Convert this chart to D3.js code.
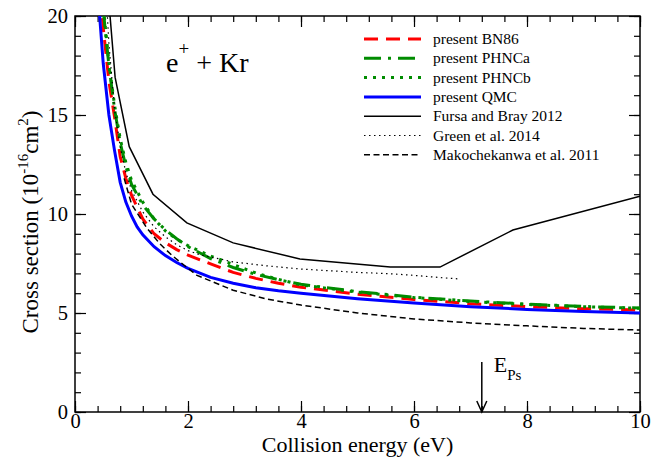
<!DOCTYPE html>
<html>
<head>
<meta charset="utf-8">
<script src="https://cdn.jsdelivr.net/npm/d3@7"></script>
<style>
  body { margin: 0; background: #fff; }
  svg text { font-family: "Liberation Serif", "Tinos", "DejaVu Serif", serif !important; }
</style>
</head>
<body>
<div id="chart"></div>
<script>
// theory curves share one energy grid (QMC has its own)
const qmcEnergy = [0.42, 0.5, 0.6, 0.7, 0.8, 0.9, 1.0, 1.1, 1.2, 1.4, 1.6, 1.8, 2.0, 2.4, 2.8, 3.2, 3.6, 4, 5, 6, 7, 8, 9, 10];
const qmc = [20.6, 17.6, 15.0, 13.2, 11.6, 10.6, 9.9, 9.35, 8.95, 8.35, 7.9, 7.55, 7.25, 6.8, 6.5, 6.28, 6.12, 6.0, 5.72, 5.5, 5.32, 5.18, 5.08, 5.0];

const thEnergy = [0.45, 0.5, 0.6, 0.7, 0.8, 0.9, 1.0, 1.2, 1.4, 1.6, 1.8, 2.0, 2.4, 2.8, 3.2, 3.6, 4, 5, 6, 7, 8, 9, 10];
const bn86 = [21.0, 19.4, 16.7, 14.9, 12.9, 11.8, 10.95, 9.75, 9.0, 8.55, 8.2, 7.92, 7.48, 7.05, 6.75, 6.5, 6.3, 5.95, 5.68, 5.47, 5.32, 5.22, 5.15];
const phnca = [22.0, 20.3, 17.5, 15.3, 13.6, 12.4, 11.5, 10.45, 9.75, 9.2, 8.75, 8.35, 7.75, 7.3, 6.95, 6.68, 6.45, 6.08, 5.8, 5.6, 5.45, 5.33, 5.25];
const phncb = [22.2, 20.5, 17.6, 15.5, 13.8, 12.6, 11.7, 10.6, 9.75, 9.15, 8.72, 8.4, 7.88, 7.45, 7.02, 6.7, 6.42, 6.05, 5.78, 5.58, 5.43, 5.32, 5.24];

const fursaEnergy = [0.6, 0.71, 0.96, 1.38, 1.98, 2.8, 3.98, 5.58, 6.46, 7.75, 10];
const fursa = [20.7, 16.9, 13.4, 11.0, 9.55, 8.54, 7.73, 7.32, 7.32, 9.19, 10.9];

const greenEnergy = [0.55, 0.6, 0.7, 0.8, 0.9, 1.0, 1.2, 1.4, 1.6, 1.8, 2.0, 2.2, 2.8, 3.4, 4.0, 5.0, 5.6, 6.0, 6.5, 6.8];
const green = [21.2, 18.6, 15.3, 13.4, 12.1, 11.2, 10.1, 9.35, 8.85, 8.45, 8.15, 7.95, 7.58, 7.38, 7.22, 7.05, 6.98, 6.9, 6.78, 6.72];

const makoEnergy = [0.87, 1.0, 1.27, 1.5, 1.72, 1.98, 2.16, 2.8, 3.4, 4.0, 5.0, 6.0, 7.0, 8.0, 9.0, 10];
const mako = [11.8, 10.5, 9.3, 8.5, 7.9, 7.3, 6.9, 6.15, 5.7, 5.4, 5.0, 4.7, 4.5, 4.35, 4.22, 4.14];

const legendLabels = ["present BN86", "present PHNCa", "present PHNCb", "present QMC",
  "Fursa and Bray 2012", "Green et al. 2014", "Makochekanwa et al. 2011"];

const xTicks = [0, 2, 4, 6, 8, 10];
const yTicks = [0, 5, 10, 15, 20];
const ePs = 7.2;

var margin = { top: 16, right: 22, bottom: 47, left: 75 },
    width = 662 - margin.left - margin.right,
    height = 459 - margin.top - margin.bottom;

var svg = d3.select("#chart")
    .append("svg")
    .attr("width", 662)
    .attr("height", 459)
    .append("g")
    .attr("transform", "translate(" + margin.left + "," + margin.top + ")");

var x = d3.scaleLinear().domain([0, 10]).range([0, width]);
var y = d3.scaleLinear().domain([0, 20]).range([height, 0]);

svg.append("clipPath").attr("id", "clip")
    .append("rect").attr("width", width).attr("height", height);

// minor ticks
var xMinor = d3.range(0, 10.01, 0.4);
var yMinor = d3.range(0, 20.01, 1);
function ticks(axis, vals, size) {
    return axis.tickValues(vals).tickSize(-size).tickFormat("");
}
svg.append("g").attr("transform", "translate(0," + height + ")").call(ticks(d3.axisBottom(x), xMinor, 6));
svg.append("g").call(ticks(d3.axisTop(x), xMinor, 6));
svg.append("g").call(ticks(d3.axisLeft(y), yMinor, 6));
svg.append("g").attr("transform", "translate(" + width + ",0)").call(ticks(d3.axisRight(y), yMinor, 6));

// major ticks with labels
svg.append("g").attr("class", "lab").attr("transform", "translate(0," + height + ")")
    .call(d3.axisBottom(x).tickValues(xTicks).tickSize(-11).tickPadding(1).tickFormat(d3.format("d")));
svg.append("g").attr("class", "lab")
    .call(d3.axisLeft(y).tickValues(yTicks).tickSize(-11).tickPadding(7).tickFormat(d3.format("d")));
svg.append("g").call(ticks(d3.axisTop(x), xTicks, 11));
svg.append("g").attr("transform", "translate(" + width + ",0)").call(ticks(d3.axisRight(y), yTicks, 11));

svg.selectAll(".domain").remove();
svg.selectAll(".tick line").attr("stroke", "#000").attr("stroke-width", 1.2);
svg.selectAll(".lab text").style("font-size", "20.5px").attr("fill", "#000");

svg.append("rect").attr("width", width).attr("height", height)
    .attr("fill", "none").attr("stroke", "#000").attr("stroke-width", 1.5);

// curves
var styles = [
    { e: thEnergy, v: bn86, color: "#ff0000", w: 3, dash: "14,8" },
    { e: thEnergy, v: phnca, color: "#008c00", w: 3, dash: "17,7,3,7" },
    { e: thEnergy, v: phncb, color: "#008c00", w: 3, dash: "3,6" },
    { e: qmcEnergy, v: qmc, color: "#0000ff", w: 3, dash: null },
    { e: fursaEnergy, v: fursa, color: "#000", w: 1.5, dash: null },
    { e: greenEnergy, v: green, color: "#000", w: 1.2, dash: "1.5,3.5" },
    { e: makoEnergy, v: mako, color: "#000", w: 1.5, dash: "6,3.5" }
];

var line = d3.line().x(function (d) { return x(d[0]); }).y(function (d) { return y(d[1]); });

var plot = svg.append("g").attr("clip-path", "url(#clip)");
styles.forEach(function (s) {
    var pts = s.e.map(function (e, i) { return [e, s.v[i]]; });
    plot.append("path")
        .attr("d", line(pts))
        .attr("fill", "none")
        .attr("stroke", s.color)
        .attr("stroke-width", s.w)
        .attr("stroke-dasharray", s.dash);
});

// legend
var lg = svg.append("g").attr("transform", "translate(289,23)");
legendLabels.forEach(function (name, i) {
    var s = styles[i];
    var row = lg.append("g").attr("transform", "translate(0," + (i * 19.3) + ")");
    row.append("line").attr("x1", 0).attr("x2", 57).attr("y1", 0).attr("y2", 0)
        .attr("stroke", s.color).attr("stroke-width", s.w).attr("stroke-dasharray", s.dash);
    row.append("text").attr("x", 69).attr("y", 5).text(name).style("font-size", "15.5px");
});

// e+ + Kr
var title = svg.append("text").attr("x", 91).attr("y", 56).style("font-size", "28px");
title.append("tspan").text("e");
title.append("tspan").attr("dy", -17).style("font-size", "19px").text("+");
title.append("tspan").attr("dy", 17).text(" + Kr");

// positronium threshold arrow
svg.append("line").attr("x1", x(ePs)).attr("x2", x(ePs)).attr("y1", y(2.53)).attr("y2", y(0))
    .attr("stroke", "#000").attr("stroke-width", 1.5);
svg.append("path")
    .attr("d", "M" + (x(ePs) - 5) + "," + (y(0) - 11) + "L" + x(ePs) + "," + y(0) + "L" + (x(ePs) + 5) + "," + (y(0) - 11))
    .attr("fill", "none").attr("stroke", "#000").attr("stroke-width", 1.5);
var ep = svg.append("text").attr("x", x(ePs) + 12).attr("y", y(2.0)).style("font-size", "22px");
ep.append("tspan").text("E");
ep.append("tspan").attr("dy", 8).style("font-size", "15px").text("Ps");

// axis titles
svg.append("text").attr("x", width / 2).attr("y", height + 40).attr("text-anchor", "middle")
    .style("font-size", "22px").text("Collision energy (eV)");

var yl = svg.append("text").attr("transform", "translate(-37,206) rotate(-90)")
    .attr("text-anchor", "middle").style("font-size", "23px");
yl.append("tspan").text("Cross section (10");
yl.append("tspan").attr("dy", -10).style("font-size", "15px").text("-16");
yl.append("tspan").attr("dy", 10).text("cm");
yl.append("tspan").attr("dy", -10).style("font-size", "15px").text("2");
yl.append("tspan").attr("dy", 10).text(")");
</script>
</body>
</html>
